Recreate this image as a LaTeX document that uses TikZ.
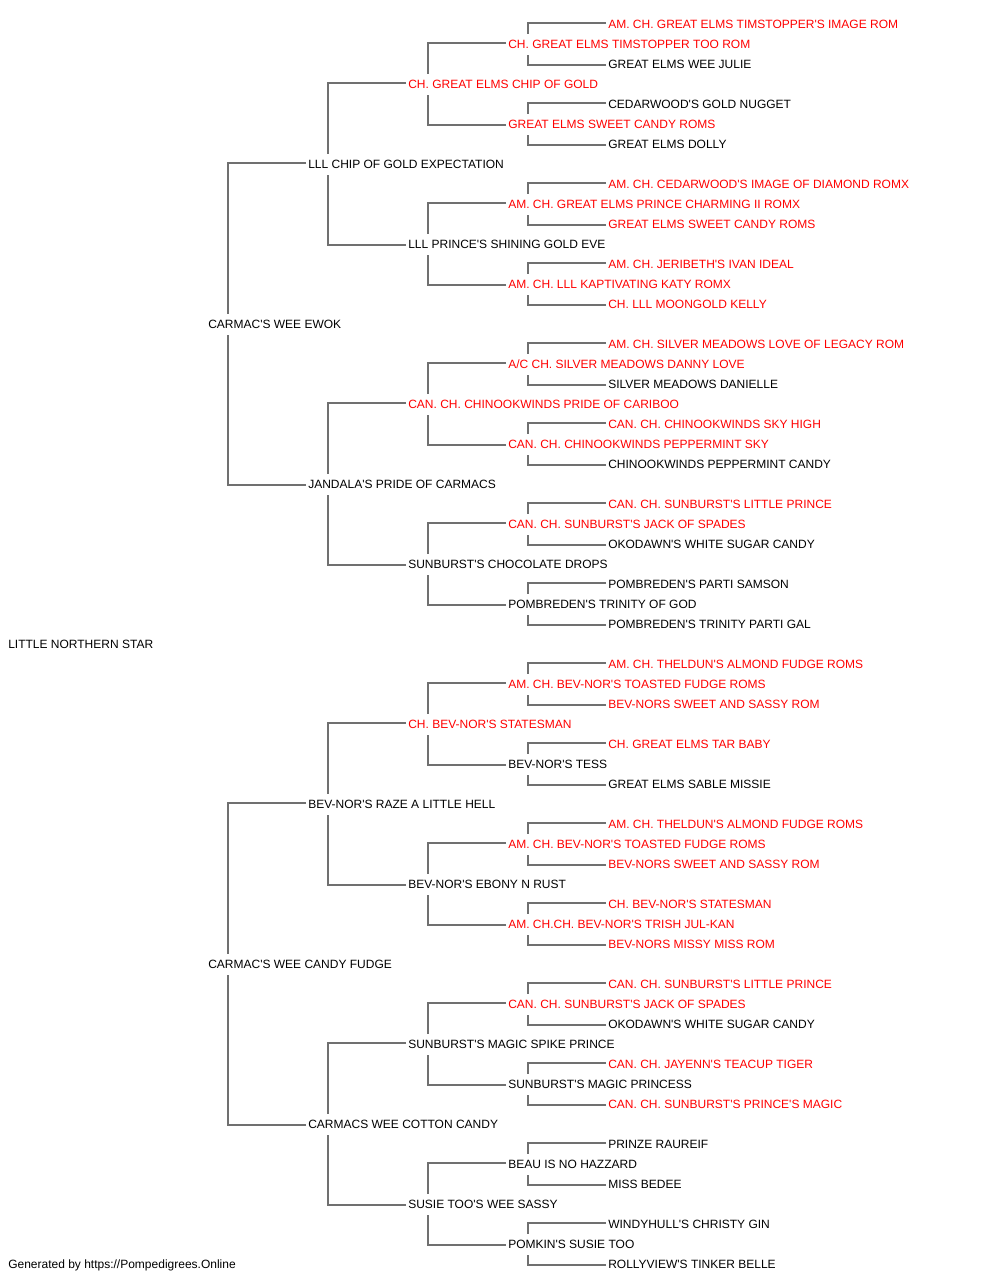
\documentclass[tikz,border=0pt]{standalone}
\usepackage{fontspec}
\setmainfont{Liberation Sans}[Ligatures=TeXOff]
\usetikzlibrary{calc}
\definecolor{lnk}{HTML}{707070}
\definecolor{rd}{HTML}{FF0000}
\tikzset{
  lbl/.style={anchor=base west, inner sep=0pt, text height=6.45pt, text depth=0pt, font=\fontsize{9}{11}\selectfont},
  blk/.style={lbl, text=black},
  red/.style={lbl, text=rd},
  link/.style={draw=lnk, line width=1.4pt}
}
\newcommand\nd[4]{\node[#3] (n#1) at (#2, {28.5+20*#1}) {#4};}
\newcommand\conn[2]{%
  \pgfmathtruncatemacro\cu{#1-#2}\pgfmathtruncatemacro\cl{#1+#2}%
  \draw[link] ($(n\cu.west)+(-2,-1.2)$) -| ($(n#1.west)+(20,-10.5)$);
  \draw[link] ($(n\cl.west)+(-2,0.8)$) -| ($(n#1.west)+(20,10.5)$);}
\begin{document}
\begin{tikzpicture}[x=0.75pt,y=-0.75pt]
\useasboundingbox (0,0) rectangle (1000,1280);
\nd{0}{608}{red}{AM. CH. GREAT ELMS TIMSTOPPER'S IMAGE ROM}
\nd{1}{508}{red}{CH. GREAT ELMS TIMSTOPPER TOO ROM}
\nd{2}{608}{blk}{GREAT ELMS WEE JULIE}
\nd{3}{408}{red}{CH. GREAT ELMS CHIP OF GOLD}
\nd{4}{608}{blk}{CEDARWOOD'S GOLD NUGGET}
\nd{5}{508}{red}{GREAT ELMS SWEET CANDY ROMS}
\nd{6}{608}{blk}{GREAT ELMS DOLLY}
\nd{7}{308}{blk}{LLL CHIP OF GOLD EXPECTATION}
\nd{8}{608}{red}{AM. CH. CEDARWOOD'S IMAGE OF DIAMOND ROMX}
\nd{9}{508}{red}{AM. CH. GREAT ELMS PRINCE CHARMING II ROMX}
\nd{10}{608}{red}{GREAT ELMS SWEET CANDY ROMS}
\nd{11}{408}{blk}{LLL PRINCE'S SHINING GOLD EVE}
\nd{12}{608}{red}{AM. CH. JERIBETH'S IVAN IDEAL}
\nd{13}{508}{red}{AM. CH. LLL KAPTIVATING KATY ROMX}
\nd{14}{608}{red}{CH. LLL MOONGOLD KELLY}
\nd{15}{208}{blk}{CARMAC'S WEE EWOK}
\nd{16}{608}{red}{AM. CH. SILVER MEADOWS LOVE OF LEGACY ROM}
\nd{17}{508}{red}{A/C CH. SILVER MEADOWS DANNY LOVE}
\nd{18}{608}{blk}{SILVER MEADOWS DANIELLE}
\nd{19}{408}{red}{CAN. CH. CHINOOKWINDS PRIDE OF CARIBOO}
\nd{20}{608}{red}{CAN. CH. CHINOOKWINDS SKY HIGH}
\nd{21}{508}{red}{CAN. CH. CHINOOKWINDS PEPPERMINT SKY}
\nd{22}{608}{blk}{CHINOOKWINDS PEPPERMINT CANDY}
\nd{23}{308}{blk}{JANDALA'S PRIDE OF CARMACS}
\nd{24}{608}{red}{CAN. CH. SUNBURST'S LITTLE PRINCE}
\nd{25}{508}{red}{CAN. CH. SUNBURST'S JACK OF SPADES}
\nd{26}{608}{blk}{OKODAWN'S WHITE SUGAR CANDY}
\nd{27}{408}{blk}{SUNBURST'S CHOCOLATE DROPS}
\nd{28}{608}{blk}{POMBREDEN'S PARTI SAMSON}
\nd{29}{508}{blk}{POMBREDEN'S TRINITY OF GOD}
\nd{30}{608}{blk}{POMBREDEN'S TRINITY PARTI GAL}
\nd{31}{8}{blk}{LITTLE NORTHERN STAR}
\nd{32}{608}{red}{AM. CH. THELDUN'S ALMOND FUDGE ROMS}
\nd{33}{508}{red}{AM. CH. BEV-NOR'S TOASTED FUDGE ROMS}
\nd{34}{608}{red}{BEV-NORS SWEET AND SASSY ROM}
\nd{35}{408}{red}{CH. BEV-NOR'S STATESMAN}
\nd{36}{608}{red}{CH. GREAT ELMS TAR BABY}
\nd{37}{508}{blk}{BEV-NOR'S TESS}
\nd{38}{608}{blk}{GREAT ELMS SABLE MISSIE}
\nd{39}{308}{blk}{BEV-NOR'S RAZE A LITTLE HELL}
\nd{40}{608}{red}{AM. CH. THELDUN'S ALMOND FUDGE ROMS}
\nd{41}{508}{red}{AM. CH. BEV-NOR'S TOASTED FUDGE ROMS}
\nd{42}{608}{red}{BEV-NORS SWEET AND SASSY ROM}
\nd{43}{408}{blk}{BEV-NOR'S EBONY N RUST}
\nd{44}{608}{red}{CH. BEV-NOR'S STATESMAN}
\nd{45}{508}{red}{AM. CH.CH. BEV-NOR'S TRISH JUL-KAN}
\nd{46}{608}{red}{BEV-NORS MISSY MISS ROM}
\nd{47}{208}{blk}{CARMAC'S WEE CANDY FUDGE}
\nd{48}{608}{red}{CAN. CH. SUNBURST'S LITTLE PRINCE}
\nd{49}{508}{red}{CAN. CH. SUNBURST'S JACK OF SPADES}
\nd{50}{608}{blk}{OKODAWN'S WHITE SUGAR CANDY}
\nd{51}{408}{blk}{SUNBURST'S MAGIC SPIKE PRINCE}
\nd{52}{608}{red}{CAN. CH. JAYENN'S TEACUP TIGER}
\nd{53}{508}{blk}{SUNBURST'S MAGIC PRINCESS}
\nd{54}{608}{red}{CAN. CH. SUNBURST'S PRINCE'S MAGIC}
\nd{55}{308}{blk}{CARMACS WEE COTTON CANDY}
\nd{56}{608}{blk}{PRINZE RAUREIF}
\nd{57}{508}{blk}{BEAU IS NO HAZZARD}
\nd{58}{608}{blk}{MISS BEDEE}
\nd{59}{408}{blk}{SUSIE TOO'S WEE SASSY}
\nd{60}{608}{blk}{WINDYHULL'S CHRISTY GIN}
\nd{61}{508}{blk}{POMKIN'S SUSIE TOO}
\nd{62}{608}{blk}{ROLLYVIEW'S TINKER BELLE}
\node[blk] (gen) at (8, 1268.5) {Generated by https://Pompedigrees.Online};
\foreach \p in {1,5,...,61} {\conn{\p}{1}}
\foreach \p in {3,11,...,59} {\conn{\p}{2}}
\foreach \p in {7,23,39,55} {\conn{\p}{4}}
\foreach \p in {15,47} {\conn{\p}{8}}
\end{tikzpicture}
\end{document}
